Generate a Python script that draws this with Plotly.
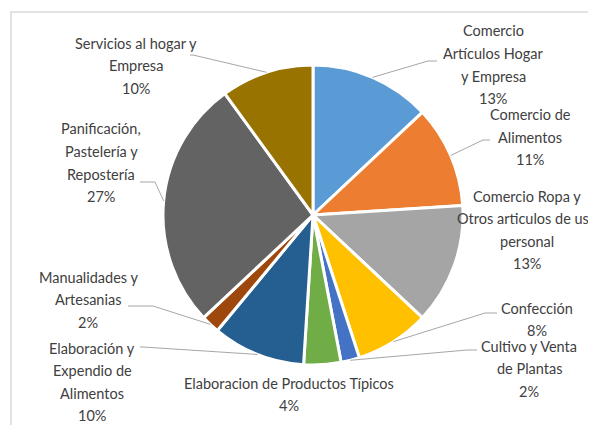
import math
import plotly.graph_objects as go

# ---- data ----
categories = [
    "Comercio Artículos Hogar y Empresa",
    "Comercio de Alimentos",
    "Comercio Ropa y Otros articulos de uso personal",
    "Confección",
    "Cultivo y Venta de Plantas",
    "Elaboracion de Productos Típicos",
    "Elaboración y Expendio de Alimentos",
    "Manualidades y Artesanias",
    "Panificación, Pastelería y Repostería",
    "Servicios al hogar y Empresa",
]
percent_values = [13, 11, 13, 8, 2, 4, 10, 2, 27, 10]
label_lines = [
    ["Comercio", "Artículos Hogar", "y Empresa"],
    ["Comercio de", "Alimentos"],
    ["Comercio Ropa y", "Otros articulos de uso", "personal"],
    ["Confección"],
    ["Cultivo y Venta", "de Plantas"],
    ["Elaboracion de Productos Típicos"],
    ["Elaboración y", "Expendio de", "Alimentos"],
    ["Manualidades y", "Artesanias"],
    ["Panificación,", "Pastelería y", "Repostería"],
    ["Servicios al hogar y", "Empresa"],
]
colors = ["#5B9BD5", "#ED7D31", "#A5A5A5", "#FFC000", "#4472C4",
          "#70AD47", "#255E91", "#9E480E", "#636363", "#997300"]

# ---- layout (screen pixels; the page body adds an 8px offset) ----
OFF = 8
W, H = 596 - OFF, 425 - OFF
CX, CY, R = 313, 215, 150
LINE_H = 22.5
# label centre x, first-line y
label_pos = [(493, 31), (530, 115), (527, 196), (537, 308), (529, 346),
             (289, 383), (92, 348), (88, 277), (101, 129), (136, 43)]
# leader elbow and end point (None = no leader)
leaders = [((428, 61), (437, 61)), ((483, 140), (490, 140)), None,
           ((485, 313), (497, 313)), ((467, 350), (477, 350)), None,
           ((143, 347), (140, 347)), ((153, 306), (128, 306)),
           ((155, 182), (140, 182)), ((193, 55), (190, 55))]


def px(x, y):
    return (x - OFF) / W, 1 - (y - OFF) / H


dx0, dy1 = px(CX - R, CY - R)
dx1, dy0 = px(CX + R, CY + R)

fig = go.Figure(go.Pie(
    labels=categories,
    values=percent_values,
    sort=False,
    direction="clockwise",
    rotation=0,
    textinfo="none",
    marker=dict(colors=colors, line=dict(color="white", width=3)),
    domain=dict(x=[dx0, dx1], y=[dy0, dy1]),
    showlegend=False,
    hoverinfo="label+percent",
))

annotations = []
shapes = []
total = sum(percent_values)
cum = 0
for i, v in enumerate(percent_values):
    mid = (cum + v / 2) / total * 2 * math.pi
    cum += v
    lines = label_lines[i] + [f"{round(v / total * 100)}%"]
    lx, ly = label_pos[i]
    for j, t in enumerate(lines):
        x, y = px(lx, ly + j * LINE_H)
        annotations.append(dict(x=x, y=y, xref="paper", yref="paper", text=t,
                                showarrow=False, xanchor="center", yanchor="middle",
                                font=dict(family="Lato", size=14.5, color="#404040")))
    if leaders[i] is not None:
        sx, sy = CX + R * math.sin(mid), CY - R * math.cos(mid)
        (ex, ey), (fx, fy) = leaders[i]
        a, b = px(sx, sy)
        c, d = px(ex, ey)
        e, f = px(fx, fy)
        shapes.append(dict(type="path", xref="paper", yref="paper",
                           path=f"M {a},{b} L {c},{d} L {e},{f}",
                           line=dict(color="#A6A6A6", width=1)))

# outer chart border
x0, y0 = px(11, 12)
x1, y1 = px(620, 450)
shapes.append(dict(type="rect", xref="paper", yref="paper", x0=x0, y0=y1, x1=x1, y1=y0,
                   line=dict(color="#D9D9D9", width=1.5), layer="below"))

fig.update_layout(width=W, height=H, margin=dict(l=0, r=0, t=0, b=0),
                  paper_bgcolor="white", plot_bgcolor="white",
                  annotations=annotations, shapes=shapes)
fig.write_html("out.html")
